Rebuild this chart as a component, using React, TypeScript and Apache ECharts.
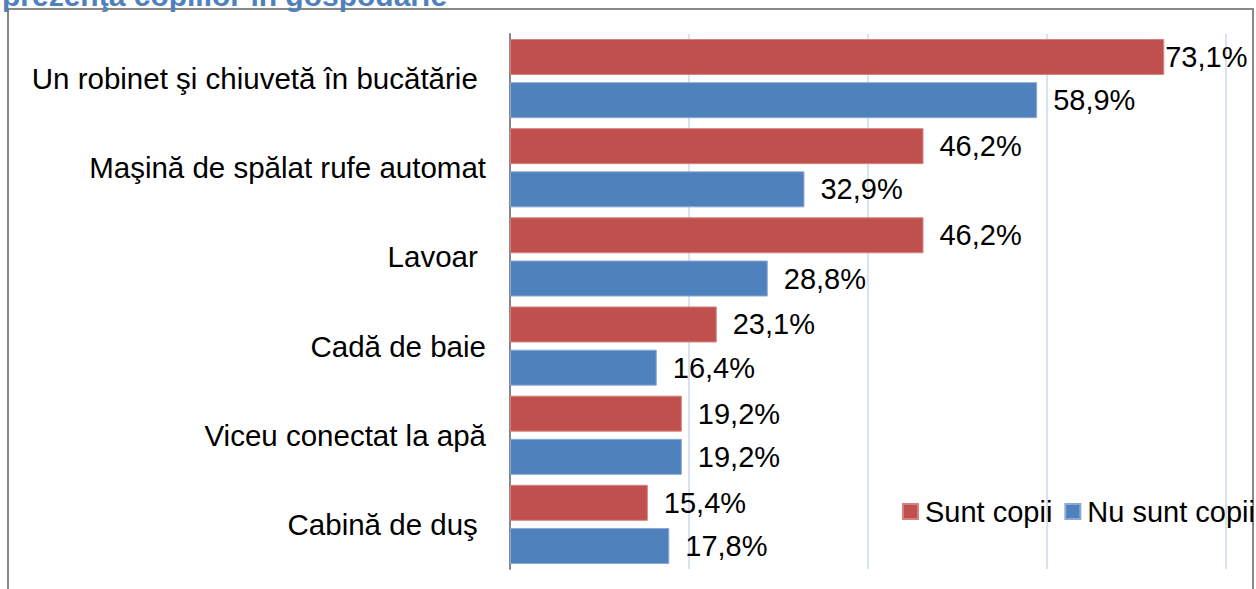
import React, { useEffect, useRef } from "react";
import * as echarts from "echarts";

const categories = [
  "Un robinet şi chiuvetă în bucătărie ",
  "Maşină de spălat rufe automat",
  "Lavoar ",
  "Cadă de baie",
  "Viceu conectat la apă",
  "Cabină de duş ",
];
const suntCopii = [73.1, 46.2, 46.2, 23.1, 19.2, 15.4];
const nuSuntCopii = [58.9, 32.9, 28.8, 16.4, 19.2, 17.8];
const seriesNames = ["Sunt copii", "Nu sunt copii"];
const titleText = "prezenţa copiilor în gospodărie";

const RED = "#C0504D";
const BLUE = "#4F81BD";
const FONT = "'Liberation Sans', Arial, sans-serif";

const fmt = (v: number) => v.toFixed(1).replace(".", ",") + "%";

export default function App() {
  const ref = useRef<HTMLDivElement>(null);
  useEffect(() => {
    if (!ref.current) return;
    const chart = echarts.init(ref.current, undefined, { renderer: "svg" });
    const mkData = (arr: number[]) =>
      arr.map((v) => (v > 70 ? { value: v, label: { distance: 1 } } : { value: v }));
    const labelCfg = {
      show: true,
      position: "right",
      distance: 16,
      color: "#000",
      fontSize: 29,
      fontFamily: FONT,
      formatter: (p: any) => fmt(p.value),
    };
    chart.setOption({
      animation: false,
      backgroundColor: "#fff",
      textStyle: { fontFamily: FONT },
      grid: { left: 510, right: 30, top: 34, bottom: 20, containLabel: false },
      xAxis: {
        type: "value",
        min: 0,
        max: 80,
        interval: 20,
        axisLabel: { show: false },
        axisLine: { show: false },
        axisTick: { show: false },
        splitLine: { lineStyle: { color: "#D9E2F1", width: 2 } },
      },
      yAxis: {
        type: "category",
        inverse: true,
        data: categories,
        axisLine: { lineStyle: { color: "#878787", width: 2 } },
        axisTick: { length: 8, lineStyle: { color: "#878787", width: 2 } },
        axisLabel: { color: "#000", fontSize: 29.5, fontFamily: FONT, margin: 24 },
      },
      legend: {
        left: 902,
        top: 497,
        width: 400,
        padding: 0,
        itemWidth: 15,
        itemHeight: 15,
        itemGap: 12,
        icon: "rect",
        textStyle: { fontSize: 29, color: "#000", fontFamily: FONT, padding: [0, 0, 0, 2] },
        data: seriesNames,
      },
      series: [
        {
          name: seriesNames[0],
          type: "bar",
          data: mkData(suntCopii),
          barWidth: 36,
          barGap: "20%",
          itemStyle: { color: RED, borderColor: "#D4847F", borderWidth: 1 },
          label: labelCfg,
        },
        {
          name: seriesNames[1],
          type: "bar",
          data: mkData(nuSuntCopii),
          barWidth: 36,
          barGap: "20%",
          itemStyle: { color: BLUE, borderColor: "#8AA9D4", borderWidth: 1 },
          label: labelCfg,
        },
      ],
      graphic: [
        {
          type: "rect",
          shape: { x: 8, y: 9, width: 1245, height: 620 },
          style: { fill: "none", stroke: "#888888", lineWidth: 2 },
          silent: true,
        },
        {
          type: "text",
          x: 2,
          y: 10,
          style: {
            text: titleText,
            fill: BLUE,
            fontSize: 30,
            fontWeight: "bold",
            fontFamily: FONT,
            verticalAlign: "bottom",
          },
          silent: true,
        },
      ],
    });
    return () => chart.dispose();
  }, []);
  return (
    <div
      ref={ref}
      style={{ position: "fixed", left: 0, top: 0, width: 1256, height: 589 }}
    />
  );
}
